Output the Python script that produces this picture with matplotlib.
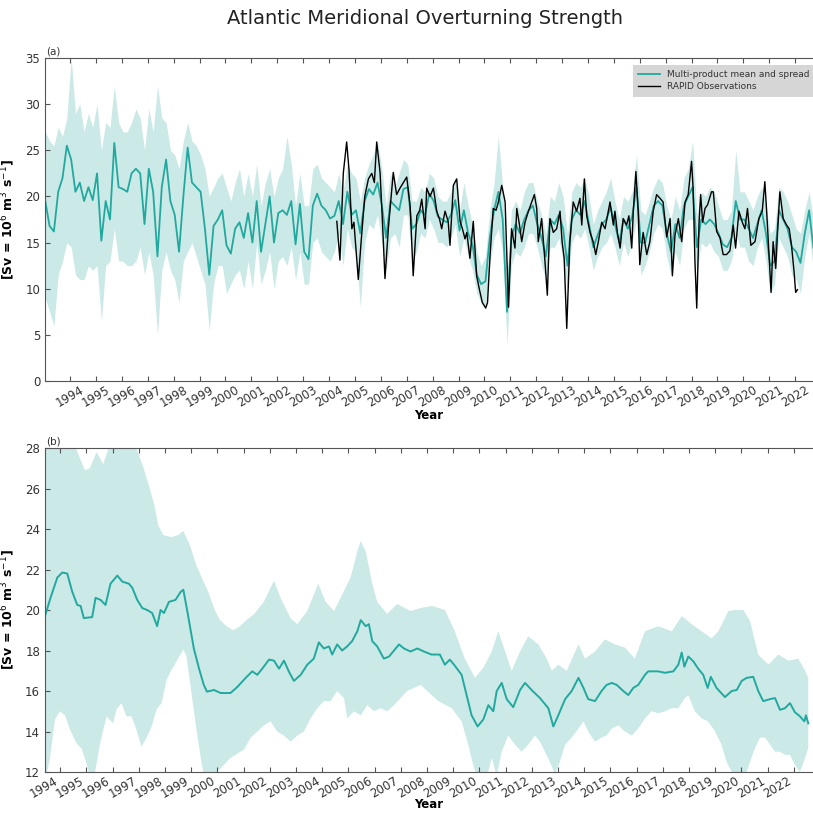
import numpy as np
import matplotlib
matplotlib.use('Agg')
import matplotlib.pyplot as plt

# ===========================
# (a) multi-product monthly AMOC, sampled every 2 months from Jan 1993
# ===========================
T0_A = 1993.04
MEAN_A = [
    19.5, 16.8, 16.2, 20.5, 22.0, 25.5,   # 1993
    24.0, 20.5, 21.5, 19.5, 21.0, 19.6,   # 1994
    22.5, 15.2, 19.5, 17.5, 25.8, 21.0,   # 1995
    20.8, 20.5, 22.5, 23.0, 22.5, 17.0,   # 1996
    23.0, 20.5, 13.5, 21.0, 24.0, 19.5,   # 1997
    18.0, 14.0, 20.0, 25.3, 21.5, 21.0,   # 1998
    20.5, 16.5, 11.5, 16.8, 17.5, 18.5,   # 1999
    14.7, 13.8, 16.5, 17.2, 15.5, 18.2,   # 2000
    15.0, 19.5, 14.0, 17.0, 20.0, 15.0,   # 2001
    18.2, 18.5, 18.0, 19.5, 14.8, 19.2,   # 2002
    14.0, 13.2, 19.0, 20.3, 19.0, 18.5,   # 2003
    17.6, 17.9, 19.5, 17.0, 20.5, 18.0,   # 2004
    18.5, 16.0, 19.5, 20.8, 20.2, 21.5,   # 2005
    19.0, 15.5, 19.5, 19.0, 18.5, 20.8,   # 2006
    21.0, 16.5, 17.0, 18.5, 18.0, 20.3,   # 2007
    19.5, 17.8, 17.5, 17.2, 18.0, 19.6,   # 2008
    16.3, 18.5, 16.0, 14.8, 11.5, 10.5,   # 2009
    10.8, 15.5, 18.5, 20.5, 17.5, 7.5,    # 2010
    15.5, 17.0, 16.0, 17.5, 18.5, 19.0,   # 2011
    17.0, 15.5, 13.5, 17.5, 17.0, 18.0,   # 2012
    16.5, 12.5, 17.5, 18.5, 18.0, 19.5,   # 2013
    17.0, 14.5, 15.8, 17.0, 17.5, 18.8,   # 2014
    17.0, 15.0, 17.5, 16.5, 17.8, 21.0,   # 2015
    15.0, 15.0, 17.0, 19.0, 19.5, 19.0,   # 2016
    16.0, 14.0, 17.0, 15.5, 19.0, 20.0,   # 2017
    21.0, 14.5, 17.5, 17.0, 17.5, 17.0,   # 2018
    16.0, 14.8, 14.5, 15.5, 19.5, 17.5,   # 2019
    17.5, 16.5, 15.5, 17.0, 18.5, 16.0,   # 2020
    12.5, 13.0, 18.5, 17.5, 16.5, 14.5,   # 2021
    14.0, 12.8, 16.0, 18.5, 14.4, 15.0,   # 2022
]
UP_A = [
    27.0, 26.0, 25.5, 27.5, 26.5, 28.5,
    35.0, 29.0, 30.0, 27.0, 29.0, 27.5,
    30.0, 25.0, 28.0, 27.5, 32.0, 28.0,
    27.0, 27.0, 28.0, 29.5, 28.5, 25.0,
    29.5, 27.0, 32.0, 28.5, 28.0, 25.0,
    24.5, 23.0, 26.0, 28.0, 26.0, 25.5,
    24.5, 23.0, 20.0, 21.0, 22.0, 22.5,
    21.0, 19.5, 21.5, 23.0, 20.0, 22.5,
    20.0, 23.5, 19.0, 21.5, 23.0, 20.0,
    22.0, 23.0, 26.5, 23.5, 19.0, 22.5,
    19.0, 19.0, 23.0, 23.5, 22.0, 21.5,
    21.0, 20.5, 22.5, 20.5, 23.5, 22.5,
    22.0, 19.5, 22.0, 23.5, 24.5, 26.0,
    23.0, 19.0, 22.5, 21.0, 22.5, 24.0,
    23.5, 19.5, 19.5, 21.0, 20.5, 22.5,
    22.0, 20.0, 19.5, 19.5, 20.5, 22.0,
    18.5, 21.5, 19.0, 17.0, 14.0, 12.5,
    13.5, 18.5, 21.5, 26.5, 21.0, 11.0,
    18.5, 19.5, 18.5, 20.5, 21.5, 21.5,
    19.5, 18.0, 16.0, 20.0, 19.5, 21.5,
    20.0, 16.0, 20.5, 21.5, 21.0, 22.0,
    20.0, 17.0, 18.5, 19.5, 20.5, 22.0,
    19.5, 17.5, 20.0, 19.5, 20.5, 24.5,
    18.5, 18.0, 19.5, 21.0, 22.0, 21.5,
    19.0, 17.5, 20.0, 18.5, 22.0, 23.0,
    26.0, 18.0, 20.5, 20.0, 21.0, 20.5,
    19.0, 17.5, 17.5, 18.5, 25.0, 20.5,
    20.5, 19.5, 18.5, 20.0, 21.0, 19.0,
    16.0, 16.5, 21.0, 20.5, 19.5, 18.0,
    16.5, 16.0, 18.5, 20.5, 17.5, 18.0,
]
LO_A = [
    9.0, 7.5, 6.0, 11.5, 13.0, 15.0,
    14.5, 11.5, 11.0, 11.0, 12.5, 12.0,
    12.5, 6.5, 12.5, 13.0, 16.5, 13.0,
    13.0, 12.5, 12.5, 13.0, 14.5, 11.5,
    14.0, 11.5, 5.0, 12.0, 14.0, 12.0,
    11.0, 8.5, 13.0, 14.0, 15.0, 13.5,
    12.0, 10.5, 5.5, 10.5, 12.5, 12.5,
    9.5, 10.5, 11.5, 12.0, 10.0, 13.0,
    10.0, 15.0, 10.5, 12.0, 14.0, 10.0,
    13.0, 13.5, 12.5, 14.5, 11.0, 14.0,
    10.5, 10.5, 15.0, 15.5, 14.0, 13.5,
    13.0, 14.0, 16.0, 12.5, 16.5, 14.5,
    14.0, 8.0, 15.0, 17.0, 16.5, 18.0,
    15.0, 12.0, 15.5, 16.0, 14.5, 18.0,
    18.0, 13.0, 14.0, 16.0, 15.5, 17.5,
    16.5, 15.0, 15.0, 14.5, 15.5, 17.0,
    13.5, 15.5, 13.5, 12.0, 9.5, 8.5,
    8.0, 12.5, 15.5, 16.5, 14.0, 4.0,
    12.5, 14.0, 13.5, 14.5, 16.0, 16.0,
    14.5, 12.5, 11.0, 14.5, 14.5, 15.5,
    13.0, 10.0, 15.0, 16.0, 15.5, 16.5,
    14.5, 12.0, 13.5, 14.5, 15.0, 16.0,
    14.5, 12.5, 15.0, 13.5, 15.0, 17.5,
    11.5, 12.5, 14.0, 16.0, 17.0, 16.5,
    13.5, 11.5, 14.0, 12.5, 16.5, 17.5,
    17.5, 11.5, 15.0, 14.5, 15.0, 14.0,
    13.5, 12.0, 12.0, 13.0, 16.0, 14.5,
    14.5, 13.0, 12.5, 14.5, 15.5, 13.0,
    9.5, 10.5, 15.5, 14.5, 13.5, 11.5,
    11.0, 9.5, 13.5, 16.0, 12.0, 12.0,
]

# RAPID observations (year, Sv)
RAPID_YEAR = [
    2004.30, 2004.42, 2004.55, 2004.68, 2004.77, 2004.88, 2004.96, 2005.13, 2005.25, 2005.38,
    2005.52, 2005.65, 2005.75, 2005.84, 2005.97, 2006.05, 2006.16, 2006.29, 2006.48, 2006.61,
    2006.74, 2006.87, 2007.00, 2007.13, 2007.25, 2007.39, 2007.50, 2007.58, 2007.71, 2007.77,
    2007.90, 2008.03, 2008.16, 2008.27, 2008.35, 2008.48, 2008.60, 2008.67, 2008.80, 2008.93,
    2009.06, 2009.15, 2009.25, 2009.32, 2009.44, 2009.57, 2009.70, 2009.80, 2009.92, 2010.05,
    2010.12, 2010.22, 2010.34, 2010.45, 2010.54, 2010.67, 2010.80, 2010.93, 2011.05, 2011.18,
    2011.25, 2011.35, 2011.44, 2011.57, 2011.70, 2011.83, 2011.93, 2012.02, 2012.08, 2012.21,
    2012.34, 2012.43, 2012.53, 2012.66, 2012.79, 2012.92, 2013.00, 2013.08, 2013.18, 2013.30,
    2013.43, 2013.56, 2013.69, 2013.76, 2013.86, 2013.95, 2014.08, 2014.20, 2014.30, 2014.40,
    2014.53, 2014.66, 2014.85, 2014.98, 2015.04, 2015.14, 2015.24, 2015.36, 2015.49, 2015.58,
    2015.69, 2015.75, 2015.85, 2015.94, 2016.00, 2016.13, 2016.27, 2016.39, 2016.52, 2016.65,
    2016.78, 2016.90, 2017.04, 2017.17, 2017.26, 2017.36, 2017.49, 2017.62, 2017.75, 2017.87,
    2018.00, 2018.06, 2018.13, 2018.20, 2018.29, 2018.35, 2018.43, 2018.52, 2018.62, 2018.77,
    2018.84, 2018.97, 2019.10, 2019.22, 2019.35, 2019.48, 2019.61, 2019.70, 2019.83, 2019.96,
    2020.06, 2020.16, 2020.29, 2020.45, 2020.60, 2020.73, 2020.83, 2020.90, 2020.99, 2021.07,
    2021.15, 2021.25, 2021.32, 2021.41, 2021.54, 2021.67, 2021.77, 2021.86, 2021.96, 2022.02,
    2022.09,
]
RAPID_SV = [
    17.3, 13.1, 22.5, 25.9, 22.9, 16.5, 17.2, 11.0, 15.5, 20.0,
    21.9, 22.5, 21.5, 25.9, 22.6, 18.0, 11.1, 16.5, 22.6, 20.2,
    20.9, 21.5, 22.1, 19.0, 11.4, 17.9, 18.5, 19.7, 16.5, 20.9,
    20.0, 20.9, 18.4, 17.5, 16.5, 18.4, 17.3, 14.7, 21.2, 21.9,
    17.3, 16.5, 15.4, 16.1, 13.3, 17.3, 11.4, 10.0, 8.5, 7.9,
    8.5, 13.7, 18.7, 18.5, 19.4, 21.2, 19.4, 8.0, 16.5, 14.4,
    18.7, 17.0, 15.1, 17.2, 18.4, 19.4, 20.2, 18.7, 15.1, 17.6,
    12.9, 9.3, 17.6, 16.1, 16.5, 18.4, 15.1, 13.3, 5.7, 15.1,
    19.4, 18.4, 19.8, 16.9, 21.9, 17.9, 16.1, 15.1, 13.7, 15.1,
    17.2, 16.5, 19.4, 16.9, 18.4, 16.0, 14.4, 17.6, 16.9, 17.9,
    14.4, 18.4, 22.7, 18.4, 12.6, 16.1, 13.7, 15.1, 18.4, 20.2,
    19.8, 19.4, 15.6, 17.6, 11.4, 15.8, 17.6, 15.1, 19.4, 20.2,
    23.8, 20.9, 13.0, 7.9, 17.2, 20.2, 17.2, 18.7, 19.1, 20.5,
    20.5, 16.2, 15.5, 13.7, 13.7, 14.1, 16.9, 14.4, 18.4, 17.2,
    16.5, 18.7, 14.7, 15.1, 17.6, 18.4, 21.6, 18.4, 13.7, 9.6,
    15.1, 12.2, 16.1, 20.5, 17.6, 16.9, 16.5, 14.7, 11.8, 9.6,
    9.9,
]

# ===========================
# (b) 12-month running mean and spread
# ===========================
B_YEAR = [
    1993.42, 1993.63, 1993.89, 1994.08, 1994.27, 1994.46, 1994.65, 1994.78, 1994.90, 1995.22,
    1995.35, 1995.54, 1995.73, 1995.92, 1996.18, 1996.37, 1996.62, 1996.75, 1996.94, 1997.13,
    1997.32, 1997.51, 1997.70, 1997.83, 1997.96, 1998.15, 1998.40, 1998.60, 1998.70, 1998.85,
    1999.10, 1999.30, 1999.48, 1999.60, 1999.87, 2000.12, 2000.50, 2000.76, 2001.08, 2001.33,
    2001.52, 2001.71, 2001.97, 2002.16, 2002.35, 2002.54, 2002.73, 2002.92, 2003.18, 2003.43,
    2003.68, 2003.87, 2004.06, 2004.26, 2004.38, 2004.57, 2004.76, 2004.95, 2005.14, 2005.34,
    2005.47, 2005.66, 2005.78, 2005.91, 2006.10, 2006.35, 2006.55, 2006.74, 2006.93, 2007.12,
    2007.37, 2007.63, 2007.88, 2008.17, 2008.49, 2008.68, 2008.87, 2009.06, 2009.32, 2009.51,
    2009.70, 2009.93, 2010.15, 2010.34, 2010.53, 2010.66, 2010.85, 2011.04, 2011.29, 2011.55,
    2011.74, 2011.99, 2012.31, 2012.63, 2012.82, 2013.01, 2013.27, 2013.52, 2013.78, 2013.97,
    2014.15, 2014.41, 2014.66, 2014.85, 2015.05, 2015.24, 2015.49, 2015.68, 2015.87, 2016.06,
    2016.32, 2016.44, 2016.63, 2016.82, 2017.08, 2017.40, 2017.59, 2017.72, 2017.82, 2017.97,
    2018.16, 2018.35, 2018.54, 2018.71, 2018.83, 2019.05, 2019.37, 2019.63, 2019.82, 2020.01,
    2020.20, 2020.45, 2020.64, 2020.83, 2021.09, 2021.28, 2021.47, 2021.66, 2021.85, 2022.04,
    2022.23, 2022.40, 2022.46, 2022.55,
]
B_MEAN = [
    19.7, 20.6, 21.6, 21.85, 21.8, 20.9, 20.25, 20.2, 19.6, 19.65,
    20.6, 20.5, 20.25, 21.3, 21.7, 21.4, 21.3, 21.1, 20.5, 20.1,
    20.0, 19.85, 19.2, 20.0, 19.85, 20.4, 20.5, 20.9, 21.0, 19.95,
    18.1, 17.1, 16.3, 15.97, 16.05, 15.9, 15.9, 16.2, 16.65, 16.97,
    16.8, 17.1, 17.55, 17.5, 17.1, 17.5, 16.95, 16.5, 16.8, 17.3,
    17.6, 18.4, 18.1, 18.2, 17.8, 18.3, 18.0, 18.2, 18.46, 18.95,
    19.5, 19.2, 19.3, 18.46, 18.2, 17.6, 17.7, 18.0, 18.3, 18.1,
    17.95, 18.1, 17.95, 17.8, 17.8, 17.3, 17.55, 17.25, 16.8, 15.8,
    14.8, 14.25, 14.6, 15.3, 15.0, 16.0, 16.4, 15.6, 15.2, 16.05,
    16.4, 16.05, 15.65, 15.15, 14.25, 14.8, 15.6, 16.0, 16.65, 16.15,
    15.6, 15.5, 16.0, 16.3, 16.4, 16.3, 16.0, 15.8, 16.15, 16.3,
    16.8, 16.97, 16.97, 16.97, 16.9, 16.97, 17.3, 17.9, 17.2, 17.7,
    17.47, 17.1, 16.8, 16.15, 16.7, 16.15, 15.7, 16.0, 16.05, 16.5,
    16.65, 16.7, 16.0, 15.5, 15.6, 15.65, 15.07, 15.15, 15.4, 14.95,
    14.75, 14.5, 14.8, 14.4,
]
B_UP_YEAR = [
    1993.42, 1994.30, 1994.50, 1994.75, 1994.94, 1995.13, 1995.39, 1995.64, 1995.90, 1996.30,
    1996.85, 1997.17, 1997.42, 1997.60, 1997.74, 1997.93, 1998.25, 1998.50, 1998.70, 1998.95,
    1999.20, 1999.47, 1999.65, 1999.90, 2000.10, 2000.35, 2000.60, 2000.86, 2001.11, 2001.40,
    2001.77, 2002.16, 2002.41, 2002.79, 2003.05, 2003.43, 2003.85, 2004.13, 2004.45, 2004.70,
    2005.08, 2005.34, 2005.47, 2005.66, 2005.91, 2006.10, 2006.48, 2006.86, 2007.37, 2007.76,
    2008.20, 2008.68, 2009.06, 2009.44, 2009.83, 2010.15, 2010.47, 2010.72, 2010.98, 2011.23,
    2011.55, 2011.86, 2012.25, 2012.57, 2012.76, 2013.01, 2013.33, 2013.78, 2014.03, 2014.41,
    2014.79, 2015.17, 2015.55, 2015.93, 2016.32, 2016.82, 2017.34, 2017.72, 2018.10, 2018.48,
    2018.86, 2019.12, 2019.50, 2019.76, 2020.07, 2020.33, 2020.64, 2021.03, 2021.41, 2021.79,
    2022.17, 2022.43, 2022.55,
]
B_UP = [
    30.0, 30.0, 28.3, 27.5, 26.9, 27.0, 27.8, 27.2, 28.2, 29.5,
    28.2, 27.05, 26.0, 25.15, 24.2, 23.7, 23.6, 23.7, 23.9, 23.2,
    22.2, 21.4, 20.9, 20.0, 19.5, 19.2, 19.0, 19.2, 19.5, 19.8,
    20.4, 21.45, 20.6, 19.6, 19.3, 19.95, 21.3, 20.4, 19.95, 20.6,
    21.6, 22.9, 23.4, 22.9, 21.3, 20.4, 19.8, 20.3, 19.95, 20.1,
    20.2, 20.0, 18.95, 17.6, 16.65, 17.15, 17.95, 18.95, 17.95, 17.0,
    17.95, 18.7, 18.3, 17.6, 17.0, 17.3, 17.0, 18.3, 17.6, 17.95,
    18.55, 18.3, 18.15, 17.6, 18.95, 19.2, 18.95, 19.7, 19.3, 18.95,
    18.6, 18.95, 19.95, 20.0, 20.0, 19.45, 17.8, 17.3, 17.8, 17.5,
    17.6, 17.0, 16.65,
]
B_LO_YEAR = [
    1993.42, 1993.60, 1993.80, 1993.99, 1994.18, 1994.37, 1994.63, 1994.82, 1995.01, 1995.13,
    1995.32, 1995.52, 1995.77, 1996.02, 1996.15, 1996.34, 1996.53, 1996.72, 1996.91, 1997.10,
    1997.30, 1997.49, 1997.68, 1997.87, 1998.06, 1998.25, 1998.50, 1998.70, 1998.82, 1999.01,
    1999.20, 1999.40, 1999.55, 1999.80, 1999.99, 2000.50, 2001.01, 2001.27, 2001.52, 2001.77,
    2002.03, 2002.28, 2002.54, 2002.79, 2003.05, 2003.30, 2003.56, 2003.81, 2004.06, 2004.32,
    2004.57, 2004.83, 2004.96, 2005.21, 2005.47, 2005.72, 2005.97, 2006.23, 2006.48, 2006.74,
    2006.99, 2007.24, 2007.50, 2007.76, 2008.01, 2008.43, 2008.94, 2009.32, 2009.57, 2009.76,
    2009.95, 2010.27, 2010.47, 2010.66, 2010.85, 2011.10, 2011.36, 2011.61, 2011.86, 2012.12,
    2012.31, 2012.50, 2012.69, 2012.88, 2013.07, 2013.27, 2013.52, 2013.78, 2013.97, 2014.15,
    2014.41, 2014.66, 2014.85, 2015.05, 2015.30, 2015.55, 2015.81, 2016.06, 2016.32, 2016.57,
    2016.82, 2017.08, 2017.34, 2017.59, 2017.84, 2017.97, 2018.22, 2018.48, 2018.73, 2018.99,
    2019.24, 2019.43, 2019.63, 2019.85, 2020.14, 2020.33, 2020.52, 2020.71, 2020.90, 2021.09,
    2021.28, 2021.47, 2021.66, 2021.85, 2022.04, 2022.23, 2022.43, 2022.55,
]
B_LO = [
    11.5, 12.6, 14.6, 15.0, 14.8, 14.1, 13.4, 13.15, 12.4, 11.8,
    11.9, 13.4, 14.75, 14.4, 15.1, 15.4, 14.75, 14.75, 14.1, 13.25,
    13.7, 14.25, 15.1, 15.4, 16.55, 17.05, 17.6, 18.05, 17.7, 15.9,
    14.1, 12.4, 11.5, 11.3, 12.0, 12.7, 13.1, 13.7, 14.0, 14.3,
    14.5, 14.0, 13.8, 13.5, 13.8, 14.0, 14.65, 15.15, 15.5, 15.5,
    16.0, 15.65, 14.65, 15.0, 14.8, 15.3, 15.0, 15.15, 15.0, 15.3,
    15.65, 16.0, 16.15, 16.3, 16.0, 15.5, 15.15, 14.5, 13.35, 12.35,
    11.6, 11.7, 12.7, 11.8, 13.0, 13.8, 13.35, 13.0, 13.35, 13.8,
    13.5, 13.0, 12.5, 11.9, 12.5, 13.35, 13.7, 14.15, 14.5, 14.0,
    13.5, 13.7, 13.8, 14.15, 14.3, 14.0, 13.8, 14.15, 14.65, 15.0,
    14.9, 15.0, 15.15, 15.15, 15.65, 15.8, 15.0, 14.65, 14.5, 14.0,
    13.35, 12.5, 12.0, 11.5, 11.8, 12.5, 13.2, 13.7, 13.7, 13.35,
    13.0, 13.0, 12.85, 12.85, 12.35, 12.0, 12.7, 13.2,
]

YEARS = list(range(1994, 2023))
TEAL = "#22a99f"
FILL = "#cbe9e7"
SPINE = "#555555"
YLABEL = r"[Sv = 10$^6$ m$^3$ s$^{-1}$]"

t_a = T0_A + np.arange(len(MEAN_A)) / 6.0

W = 813.0
fig = plt.figure(figsize=(8.13, 8.13), dpi=100)
fig.text(0.523, 0.977, "Atlantic Meridional Overturning Strength",
         ha='center', va='center', fontsize=14, color='#222222')


def style_axis(ax, label_y):
    for side in ['top', 'bottom', 'left']:
        ax.spines[side].set_color(SPINE)
    ax.spines['right'].set_visible(False)
    ax.tick_params(direction='in', top=True, right=False, length=3.5,
                   color=SPINE, labelsize=8.5, labelcolor='#333333')
    ax.tick_params(axis='x', pad=2)
    ax.set_ylabel(YLABEL, fontsize=9, fontweight='bold', labelpad=6)
    ax.set_xlabel("Year", fontsize=8.5, fontweight='bold', va='center')
    ax.xaxis.set_label_coords(0.5, label_y)


# ---- panel (a)
ax1 = fig.add_axes([45 / W, 1 - 381 / W, 1 - 45 / W, (381 - 58) / W])
ax1.fill_between(t_a, LO_A, UP_A, color=FILL, lw=0)
ax1.plot(t_a, MEAN_A, color=TEAL, lw=1.3, label="Multi-product mean and spread")
ax1.plot(RAPID_YEAR, RAPID_SV, color='black', lw=1.0, label="RAPID Observations")
ax1.set_xlim(1993.03, 2022.69)
ax1.set_ylim(0, 35)
ax1.set_yticks(range(0, 36, 5))
ax1.set_xticks(YEARS)
ax1.set_xticklabels([str(y) for y in YEARS], rotation=30, ha='center', fontsize=8)
style_axis(ax1, -0.108)
ax1.text(0.002, 1.004, "(a)", transform=ax1.transAxes, fontsize=7.5,
         va='bottom', ha='left', color='#333333')
leg = ax1.legend(loc='upper left', bbox_to_anchor=(628 / W, 1 - 60 / W),
                 bbox_transform=fig.transFigure, fontsize=6.5, frameon=True,
                 fancybox=False, framealpha=1, handlelength=2.4, borderpad=0.6,
                 labelspacing=0.35)
leg.get_frame().set_facecolor('#d6d6d6')
leg.get_frame().set_edgecolor('none')
for txt in leg.get_texts():
    txt.set_color('#333333')

# ---- panel (b)
ax2 = fig.add_axes([45 / W, 1 - 772 / W, 1 - 45 / W, (772 - 448) / W])
poly_x = np.concatenate([B_UP_YEAR, B_LO_YEAR[::-1]])
poly_y = np.concatenate([B_UP, B_LO[::-1]])
ax2.fill(poly_x, poly_y, color=FILL, lw=0)
ax2.plot(B_YEAR, B_MEAN, color=TEAL, lw=1.4)
ax2.set_xlim(1993.42, 2022.73)
ax2.set_ylim(12, 28)
ax2.set_yticks(range(12, 29, 2))
ax2.set_xticks(YEARS)
ax2.set_xticklabels([str(y) for y in YEARS], rotation=30, ha='right', fontsize=8)
style_axis(ax2, -0.100)
ax2.text(0.002, 1.004, "(b)", transform=ax2.transAxes, fontsize=7.5,
         va='bottom', ha='left', color='#333333')

fig.savefig("out.png", dpi=100)
